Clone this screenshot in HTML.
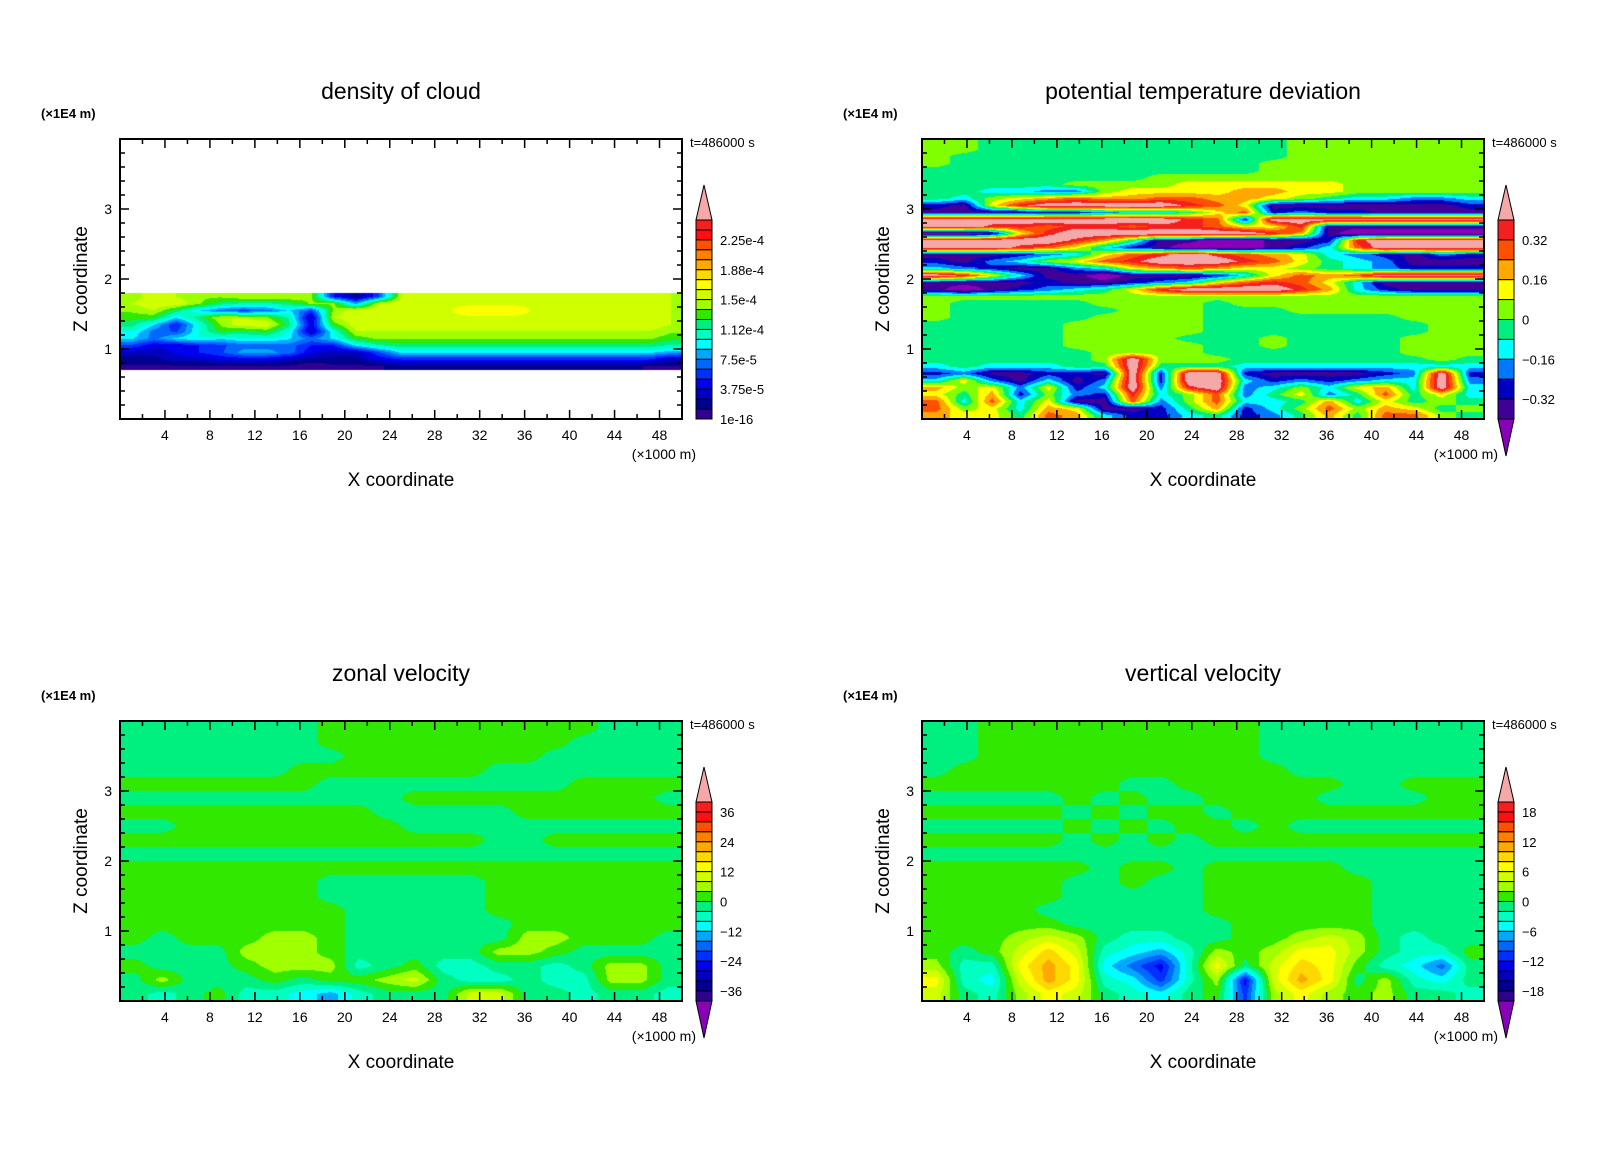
<!DOCTYPE html>
<html><head><meta charset="utf-8">
<style>
html,body{margin:0;padding:0;background:#fff;}
#wrap{position:relative;width:1600px;height:1158px;overflow:hidden;background:#fff;}
canvas{position:absolute;}
svg{position:absolute;left:0;top:0;}
text{font-family:"Liberation Sans",sans-serif;fill:#000;}
</style></head>
<body>
<div id="wrap">
<canvas id="c0" width="562" height="280" style="left:120px;top:139px"></canvas>
<canvas id="c1" width="562" height="280" style="left:922px;top:139px"></canvas>
<canvas id="c2" width="562" height="280" style="left:120px;top:721px"></canvas>
<canvas id="c3" width="562" height="280" style="left:922px;top:721px"></canvas>
<svg id="ov" width="1600" height="1158"></svg>
</div>
<script>
// ---------- shared axis data ----------
const xTicksMajor = [4,8,12,16,20,24,28,32,36,40,44,48];
const zTicksMajor = [1,2,3];
const xDomain = [0,50];
const zDomain = [0,4];

// ---------- palettes ----------
const pal20 = ["#f42020","#ff1010","#ff5000","#ff8000","#ffa800","#ffd800","#ffff00","#d0ff00","#a0ff00","#30e800",
               "#00f080","#00ffc0","#00ffff","#00a8ff","#0068ff","#0030ff","#0000f0","#0000c0","#000090","#300090"];
const pal10 = ["#f42020","#ff5000","#ffa800","#ffff00","#80ff00","#00f080","#00ffff","#0078ff","#0000c0","#400098"];
const overColor = "#f4a8a8";
const underColor = "#8800b8";

// ---------- panel 1: cloud density (units 1e-5) ----------
const cloudScale = 1e-5;
const cloudZTop = 1.8, cloudZBot = 0.7;
const cloudRows = [
[14,16,15,14,14,15,15,15,14,5,2,6,15,16,16,16,16,16,16,16,16,16,16,16,15],
[15,16,16,14,12,11,11,12,14,14,8,15,16,16,16,16,16,16,16,16,16,16,16,16,15],
[14,15,12,9,7,6,7,9,6,14,16,16,16,16,16,17,17,17,16,16,16,16,16,16,15],
[13,13,9,12,15,15,14,11,3,15,16,16,16,16,16,16,16,16,16,16,16,16,16,16,15],
[12,9,5,10,14,16,16,12,4,13,16,16,16,16,16,16,16,16,16,16,16,16,16,16,15],
[10,7,6,10,13,12,13,10,3,10,15,15,15,15,15,15,15,15,15,15,15,15,15,15,14],
[9,7,9,10,9,10,10,9,7,9,13,14,14,14,14,14,14,14,14,14,14,14,14,14,13],
[6,4,4,5,6,7,7,7,5,5,9,11,12,12,12,12,12,12,12,12,12,12,12,12,11],
[3,3,4,5,6,8,8,7,4,3,3,6,9,9,9,9,9,9,9,9,9,9,9,9,8],
[2,2,3,3,4,4,4,3,2,2,2,4,5,5,5,5,5,5,5,5,5,5,5,5,3],
[1,1,1,1,1,1,1,1,0.3,1,1,1,2,2,2,2,2,2,2,2,2,2,2,1,1]];
const cloudLabels = ["2.25e-4","1.88e-4","1.5e-4","1.12e-4","7.5e-5","3.75e-5","1e-16"];
const cloudLabelValues = [22.5,18.75,15,11.25,7.5,3.75,0];

// ---------- panel 2: potential temperature deviation (units 0.01 K) ----------
const thetaScale = 0.01;
const thetaRows = [
[4,4,-4,-4,-4,-4,-4,-4,-4,-4,-4,-4,-4,4,4,4,4,4,4,4],
[4,4,-4,-4,-4,-4,-4,-4,-4,-4,-4,-4,-4,4,4,4,4,4,4,4],
[4,-4,-4,-4,-4,-4,-4,-4,-4,-4,-4,-4,-4,4,4,4,4,4,4,4],
[4,-4,-4,-4,-4,-4,-4,-4,-4,-4,-4,-4,4,4,4,4,4,4,4,4],
[-4,-4,-4,-4,-4,-4,-4,-4,-4,-4,-4,-4,4,4,4,4,4,4,4,4],
[-4,-4,-4,-4,-4,-4,-4,-4,4,4,4,4,4,4,4,4,4,4,4,4],
[-4,-4,-4,-4,-4,4,4,4,4,12,12,12,12,12,12,4,4,4,4,4],
[-4,-4,-12,-12,-20,-20,4,12,12,12,12,20,20,12,12,4,4,4,4,4],
[-4,-12,4,12,20,28,20,20,28,28,20,20,12,4,-4,-12,-12,-20,-20,-12],
[-28,-36,12,36,50,50,50,50,50,36,28,12,-36,-36,-36,-36,-36,-36,-36,-28],
[-36,-36,-36,-36,-28,-28,-20,-12,-12,-4,12,28,-28,-20,-28,-28,-36,-36,-36,-36],
[50,50,50,50,50,50,50,50,50,36,28,-28,50,50,50,50,50,50,50,50],
[50,50,36,36,28,36,36,28,36,36,28,12,12,36,-36,-36,-36,-36,-36,-36],
[-48,-48,-36,12,36,50,50,50,50,50,50,50,36,20,-36,-48,-48,-48,-48,-48],
[50,50,50,50,50,36,20,-4,-36,-36,-48,-48,-36,-36,-28,36,50,50,50,50],
[50,50,50,36,28,12,-12,-28,-36,-48,-48,-48,-36,-28,-12,28,50,50,50,50],
[-36,-36,-36,-28,-20,-12,12,28,36,50,36,28,20,12,-12,-20,-28,-36,-20,-28],
[-28,-36,-20,-12,4,12,28,36,50,50,50,36,28,12,-4,-12,-20,-36,-36,-36],
[-12,-20,-28,-36,-36,-20,-12,12,20,28,20,12,12,4,-4,-12,-20,-28,-28,-28],
[50,36,12,-12,-36,-36,-48,-36,-36,-36,-28,-12,12,28,20,28,50,50,50,50],
[-36,-36,-36,-36,-28,-36,-36,-28,-20,-12,12,28,36,28,12,-12,-36,-36,-36,-36],
[-36,-48,-36,-28,-20,-12,-4,12,36,50,50,50,50,36,20,-12,-28,-36,-36,-36],
[4,4,4,4,4,4,4,4,4,4,4,4,4,4,4,4,4,4,4,4],
[4,-4,-4,-4,-4,-4,4,4,4,4,-4,4,4,4,4,4,4,4,4,4],
[4,-4,-4,-4,-4,-4,-4,4,4,4,-4,-4,-4,4,4,4,4,4,4,4],
[4,-4,-4,-4,-4,-4,4,4,4,4,-4,-4,-4,-4,-4,-4,-4,4,4,4],
[-4,-4,-4,-4,-4,4,4,4,4,4,-4,-4,-4,-4,-4,-4,-4,-4,4,4],
[-4,-4,-4,-4,-4,4,4,4,4,4,-4,-4,-4,-4,-4,-4,-4,-4,4,4],
[-4,-4,-4,-4,-4,4,4,4,4,-4,-4,-4,4,-4,-4,-4,-4,4,4,4],
[-4,-4,-4,-4,-4,4,4,4,4,4,-4,-4,4,-4,-4,-4,-4,4,4,4],
[-4,-4,-4,-4,-4,-4,4,4,4,4,-4,-4,-4,-4,-4,-4,-4,4,4,4],
[-4,-4,-4,-4,-4,-4,4,50,4,4,4,-4,-4,-4,-4,-4,-4,-4,4,-4],
[-12,-4,-12,-12,-12,-4,-4,50,-4,-4,-4,-12,-12,-12,-12,-12,-12,-12,-12,-12],
[-28,-20,-36,-36,-28,-28,-36,50,-28,50,50,-28,-36,-36,-36,-36,-28,-20,50,-28],
[-12,12,-20,-36,-12,-36,-20,50,-28,50,50,-12,-28,-20,-28,-20,-12,-12,50,-20],
[20,4,12,-20,12,-28,-12,50,-20,36,50,-20,-12,4,-12,12,20,-12,50,-12],
[12,-4,20,-28,4,-20,-28,36,-12,4,28,-20,-4,12,-20,-4,28,-4,12,-12],
[28,-12,28,-12,12,-36,-36,28,-20,4,28,-12,-12,-4,20,-12,12,-4,4,-4],
[28,4,12,-12,20,12,-36,-36,-28,-4,20,-28,-12,4,28,4,20,12,-4,4],
[20,12,12,-4,28,20,-12,-28,-28,-12,-4,-28,-20,-4,20,-4,28,28,4,-4]];
const thetaLabels = ["0.32","0.16","0","\u22120.16","\u22120.32"];
const thetaLabelValues = [32,16,0,-16,-32];

// ---------- panel 3: zonal velocity (m/s) ----------
const uRows = [
[-2,-2,-2,-2,-2,-2,-2,2,2,2,2,2,2,2,2,2,2,-2,-2,-2],
[-2,-2,-2,-2,-2,-2,-2,2,2,2,2,2,2,2,2,2,-2,-2,-2,-2],
[-2,-2,-2,-2,-2,-2,-2,-2,2,2,2,2,2,2,2,-2,-2,-2,-2,-2],
[-2,-2,-2,-2,-2,-2,2,2,2,2,2,2,2,-2,-2,-2,-2,-2,-2,-2],
[2,2,2,2,2,2,2,-2,-2,-2,-2,-2,-2,-2,-2,-2,2,2,2,2],
[-2,-2,-2,-2,-2,-2,-2,-2,-2,-2,2,2,2,2,2,2,2,2,2,-2],
[2,2,2,2,2,2,2,2,2,-2,-2,-2,-2,-2,2,2,2,2,2,2],
[-2,-2,2,2,2,2,2,2,2,2,-2,-2,-2,-2,-2,-2,-2,-2,-2,-2],
[2,2,2,2,2,2,2,2,2,2,2,2,2,-2,-2,2,2,2,2,2],
[-2,-2,-2,-2,-2,-2,-2,-2,-2,-2,-2,-2,-2,-2,-2,-2,-2,-2,-2,-2],
[2,2,2,2,2,2,2,2,2,2,2,2,2,2,2,2,2,2,2,2],
[2,2,2,2,2,2,2,-2,-2,-2,-2,-2,-2,2,2,2,2,2,2,2],
[2,2,2,2,2,2,2,-2,-2,-2,-2,-2,-2,2,2,2,2,2,2,2],
[2,2,2,2,2,2,2,2,-2,-2,-2,-2,-2,2,2,2,2,2,2,2],
[2,2,2,2,2,2,2,2,-2,-2,-2,-2,-2,-2,2,2,2,2,2,2],
[2,-2,2,2,2,6,6,2,-2,-2,-2,-2,-2,-2,6,6,2,2,2,-2],
[-2,-2,-2,-2,6,6,6,2,-2,-2,-2,-2,-2,6,6,2,-2,-2,-2,-2],
[2,-2,-2,-2,2,6,6,6,-6,-2,2,-6,-6,-2,-2,-6,-2,6,6,-2],
[-2,6,-2,-2,-2,2,-2,2,2,6,10,-2,-6,-6,-2,-6,-6,6,6,-2],
[-2,-6,-2,2,-6,-6,-10,-14,-6,-2,-2,-2,10,10,-2,-2,-6,-2,-2,-6]];
const uLabels = ["36","24","12","0","\u221212","\u221224","\u221236"];
const uLabelValues = [36,24,12,0,-12,-24,-36];

// ---------- panel 4: vertical velocity ----------
const wRows = [
[-1,-1,1,1,1,1,1,1,1,1,1,1,-1,-1,-1,-1,-1,-1,-1,-1],
[-1,-1,1,1,1,1,1,1,1,1,1,1,-1,-1,-1,-1,-1,-1,-1,-1],
[-1,-1,1,1,1,1,1,1,1,1,1,1,-1,-1,-1,-1,-1,-1,-1,-1],
[-1,1,1,1,1,1,1,1,1,1,1,1,1,-1,-1,-1,-1,-1,-1,-1],
[1,1,1,1,1,1,1,-1,-1,1,1,1,1,1,1,-1,-1,1,1,1],
[-1,-1,-1,-1,-1,1,-1,1,-1,-1,1,1,1,1,-1,-1,-1,-1,1,1],
[1,1,1,1,1,-1,1,-1,1,1,-1,1,1,1,1,1,1,1,1,1],
[-1,-1,-1,-1,-1,1,-1,1,-1,1,1,-1,1,-1,-1,-1,-1,-1,-1,-1],
[1,1,1,1,1,-1,1,-1,1,-1,1,1,1,1,1,1,1,1,1,1],
[-1,-1,-1,-1,-1,-1,-1,-1,-1,-1,-1,-1,-1,-1,-1,-1,-1,-1,-1,-1],
[1,1,1,1,1,1,-1,1,1,-1,1,1,1,1,1,-1,-1,-1,-1,-1],
[1,1,1,1,1,-1,-1,1,-1,-1,1,1,1,1,1,1,-1,-1,-1,-1],
[1,1,1,1,1,-1,-1,-1,-1,-1,1,1,1,1,1,1,-1,-1,-1,-1],
[1,1,1,1,-1,-1,-1,-1,-1,-1,1,1,1,1,1,1,-1,-1,-1,-1],
[1,1,1,1,1,-1,-1,-1,-1,-1,-1,1,1,1,1,1,-1,-1,-1,-1],
[1,1,1,3,5,3,-1,-3,-3,-1,-1,1,1,3,5,3,-1,-3,-1,-1],
[1,-1,1,5,9,5,-3,-5,-7,-3,3,1,3,7,7,3,-1,-3,-3,1],
[3,-3,-3,7,11,7,-5,-9,-13,-3,7,-1,5,9,7,1,-3,-5,-9,-1],
[7,-3,-5,5,11,7,-3,-5,-11,-3,3,-13,5,11,7,-1,3,-3,-5,-1],
[5,-1,-3,3,7,5,-1,-3,-5,-1,1,-11,3,7,3,1,3,-1,-1,-3]];
const wLabels = ["18","12","6","0","\u22126","\u221212","\u221218"];
const wLabelValues = [18,12,6,0,-6,-12,-18];

// ---------- panel specs ----------
const panels = [
 {id:"c0",name:"cloud",title:"density of cloud",x0:120,y0:139,rows:cloudRows,zTop:cloudZTop,zBot:cloudZBot,
  vmax:25,vmin:0,pal:pal20,over:true,under:false,blankBelow:0,labels:cloudLabels,labelValues:cloudLabelValues},
 {id:"c1",name:"theta",title:"potential temperature deviation",x0:922,y0:139,rows:thetaRows,zTop:4,zBot:0,
  vmax:40,vmin:-40,pal:pal10,over:true,under:true,labels:thetaLabels,labelValues:thetaLabelValues},
 {id:"c2",name:"zonal",title:"zonal velocity",x0:120,y0:721,rows:uRows,zTop:4,zBot:0,
  vmax:40,vmin:-40,pal:pal20,over:true,under:true,labels:uLabels,labelValues:uLabelValues},
 {id:"c3",name:"vertical",title:"vertical velocity",x0:922,y0:721,rows:wRows,zTop:4,zBot:0,
  vmax:20,vmin:-20,pal:pal20,over:true,under:true,labels:wLabels,labelValues:wLabelValues}
];
const W=562,H=280;
function xScale(p,x){return p.x0+(x-xDomain[0])/(xDomain[1]-xDomain[0])*W;}
function zScale(p,z){return p.y0+H-(z-zDomain[0])/(zDomain[1]-zDomain[0])*H;}
function hex(c){return [parseInt(c.substr(1,2),16),parseInt(c.substr(3,2),16),parseInt(c.substr(5,2),16)];}

function sample(p,x,z){
  const rows=p.rows, ny=rows.length, nx=rows[0].length;
  const dz=(p.zTop-p.zBot)/ny, dx=(xDomain[1]-xDomain[0])/nx;
  let fy=(p.zTop-z)/dz-0.5, fx=x/dx-0.5;
  fy=Math.max(0,Math.min(ny-1,fy)); fx=Math.max(0,Math.min(nx-1,fx));
  const i0=Math.floor(fy), j0=Math.floor(fx), i1=Math.min(ny-1,i0+1), j1=Math.min(nx-1,j0+1);
  const ty=fy-i0, tx=fx-j0;
  const a=rows[i0][j0]*(1-tx)+rows[i0][j1]*tx, b=rows[i1][j0]*(1-tx)+rows[i1][j1]*tx;
  return a*(1-ty)+b*ty;
}
function colorFor(p,v){
  const n=p.pal.length, step=(p.vmax-p.vmin)/n;
  if(v>=p.vmax) return overColor;
  if(v<p.vmin) return p.under?underColor:null;
  const k=Math.floor((p.vmax-v)/step);
  return p.pal[Math.min(n-1,Math.max(0,k))];
}
panels.forEach(p=>{
  const cv=document.getElementById(p.id), ctx=cv.getContext("2d");
  const img=ctx.createImageData(W,H);
  for(let py=0;py<H;py++){
    const z=zDomain[1]-(py+0.5)/H*(zDomain[1]-zDomain[0]);
    for(let px=0;px<W;px++){
      const x=(px+0.5)/W*(xDomain[1]-xDomain[0]);
      let c;
      if(z>p.zTop||z<p.zBot) c="#ffffff";
      else { const v=sample(p,x,z); c=(p.name==="cloud"&&v<=0)?"#ffffff":colorFor(p,v)||"#ffffff"; }
      const rgb=hex(c), o=(py*W+px)*4;
      img.data[o]=rgb[0];img.data[o+1]=rgb[1];img.data[o+2]=rgb[2];img.data[o+3]=255;
    }
  }
  ctx.putImageData(img,0,0);
});

// ---------- overlay ----------
const NS="http://www.w3.org/2000/svg", ov=document.getElementById("ov");
function mk(tag,attrs,parent,txt){const e=document.createElementNS(NS,tag);for(const k in attrs)e.setAttribute(k,attrs[k]);if(txt!==undefined)e.textContent=txt;(parent||ov).appendChild(e);return e;}
panels.forEach(p=>{
  const g=mk("g",{});
  
  
  const x0=p.x0,y0=p.y0;
  const t=mk("text",{x:x0+281,y:y0-40,"text-anchor":"middle","font-size":"23"},g,p.title);
  
  
  const u=mk("text",{x:x0-79,y:y0-21,"font-size":"13","font-weight":"bold"},g,"(\u00d71E4 m)");
  
  
  const yl=mk("text",{x:0,y:0,"text-anchor":"middle","font-size":"19",transform:"translate("+(x0-33)+","+(y0+140)+") rotate(-90)"},g,"Z coordinate");
  
  
  const xl=mk("text",{x:x0+281,y:y0+347,"text-anchor":"middle","font-size":"19"},g,"X coordinate");
  
  
  const xu=mk("text",{x:x0+576,y:y0+320,"text-anchor":"end","font-size":"14"},g,"(\u00d71000 m)");
  
  
  const tt=mk("text",{x:x0+570,y:y0+8,"font-size":"13",fill:"#333"},g,"t=486000 s");
  
  
  const fr=mk("rect",{x:x0,y:y0,width:W,height:H,fill:"none",stroke:"#000","stroke-width":"2"},g);
  
  
  for(let xv=2;xv<50;xv+=2){
    const X=xScale(p,xv), major=xTicksMajor.indexOf(xv)>=0, L=major?9:5;
    mk("line",{x1:X,y1:y0+H,x2:X,y2:y0+H-L,stroke:"#000","stroke-width":"1.5"},g);
    mk("line",{x1:X,y1:y0,x2:X,y2:y0+L,stroke:"#000","stroke-width":"1.5"},g);
  }
  xTicksMajor.forEach(xv=>{
    const lab=mk("text",{x:xScale(p,xv),y:y0+H+21,"text-anchor":"middle","font-size":"14"},g,String(xv));
    
    
  });
  for(let k=1;k<20;k++){
    const zv=k*0.2, Y=zScale(p,zv), major=(k%5===0), L=major?9:5;
    mk("line",{x1:x0,y1:Y,x2:x0+L,y2:Y,stroke:"#000","stroke-width":"1.5"},g);
    mk("line",{x1:x0+W,y1:Y,x2:x0+W-L,y2:Y,stroke:"#000","stroke-width":"1.5"},g);
  }
  zTicksMajor.forEach(zv=>{
    const lab=mk("text",{x:x0-8,y:zScale(p,zv)+5,"text-anchor":"end","font-size":"14"},g,String(zv));
    
    
  });
  const cb=mk("g",{},g);
  
  
  const cx=x0+576, cw=16, top=y0+81, bot=y0+H, n=p.pal.length, bh=(bot-top)/n;
  const span=p.vmax-p.vmin;
  const vy=v=>top+(p.vmax-v)/span*(bot-top);
  mk("polygon",{points:(cx)+","+top+" "+(cx+cw)+","+top+" "+(cx+cw/2)+","+(y0+46),fill:overColor,stroke:"#000","stroke-width":"1"},cb);
  for(let k=0;k<n;k++) mk("rect",{x:cx,y:top+k*bh,width:cw,height:bh,fill:p.pal[k],stroke:"#000","stroke-width":"1"},cb);
  if(p.under) mk("polygon",{points:(cx)+","+bot+" "+(cx+cw)+","+bot+" "+(cx+cw/2)+","+(y0+317),fill:underColor,stroke:"#000","stroke-width":"1"},cb);
  p.labels.forEach((s,i)=>{
    const lab=mk("text",{x:cx+24,y:vy(p.labelValues[i])+5,"font-size":"13"},cb,s);
    
    
  });
});
</script>
</body></html>
